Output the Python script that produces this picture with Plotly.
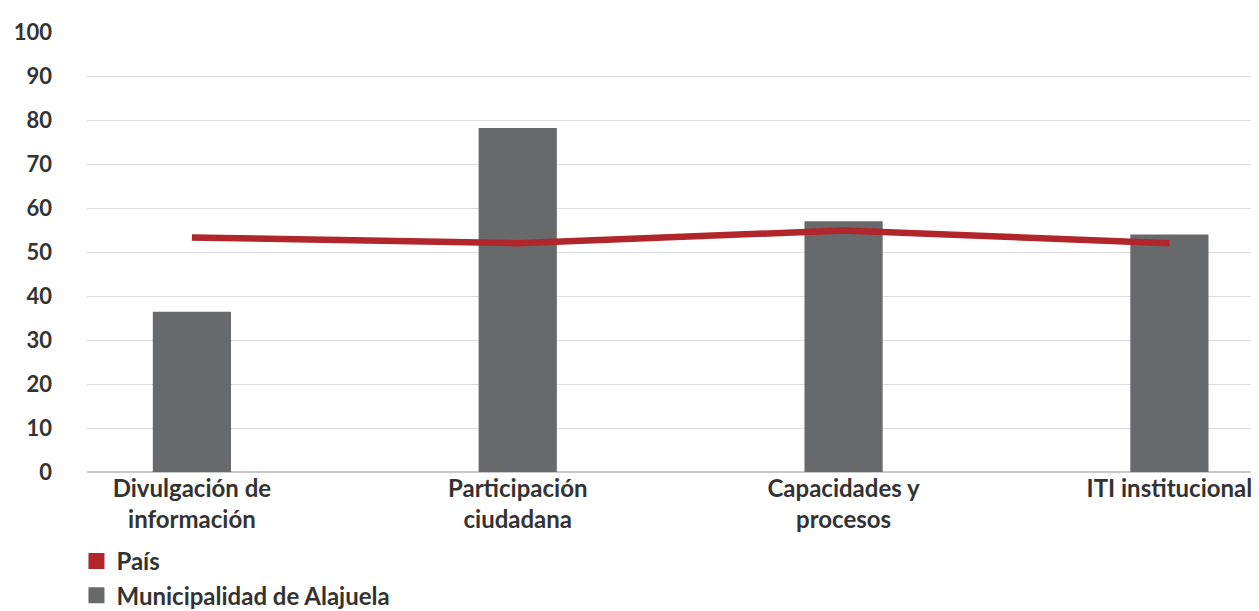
import plotly.graph_objects as go

categories = ["Divulgación de<br>información", "Participación<br>ciudadana", "Capacidades y<br>procesos", "ITI institucional"]
municipalidad = [36.4, 78.2, 57.0, 54.0]
pais = [53.3, 52.0, 54.9, 52.0]
y_ticks = [0, 10, 20, 30, 40, 50, 60, 70, 80, 90, 100]

RED = "#b0262a"
GRAY = "#68696b"
TEXT = "#333333"
FONT = "Lato"

fig = go.Figure()
fig.add_trace(go.Bar(x=categories, y=municipalidad, marker=dict(color=GRAY, line=dict(width=0)),
                     showlegend=False, name="Municipalidad de Alajuela"))
fig.add_trace(go.Scatter(x=categories, y=pais, mode="lines", line=dict(color=RED, width=6.5),
                         showlegend=False, name="País"))
# legend entries (square swatches)
fig.add_trace(go.Scatter(x=[None], y=[None], mode="markers", name="País", legendgroup="a",
                         marker=dict(symbol="square", size=17, color=RED)))
fig.add_trace(go.Scatter(x=[None], y=[None], mode="markers", name="Municipalidad de Alajuela", legendgroup="b",
                         marker=dict(symbol="square", size=17, color=GRAY)))

# page body has an 8px margin, so the figure is sized to fit the 1259x611 window
fig.update_layout(
    width=1251, height=603,
    margin=dict(l=79, r=0, t=24, b=139, autoexpand=False),
    paper_bgcolor="white", plot_bgcolor="white",
    bargap=0.76,
    font=dict(family=FONT, size=24, color=TEXT, weight="bold"),
    showlegend=True,
    legend=dict(x=-0.009, y=-0.152, xanchor="left", yanchor="top", tracegroupgap=0,
                font=dict(family=FONT, size=24, color=TEXT, weight="bold"),
                bgcolor="rgba(0,0,0,0)"),
    xaxis=dict(type="category", range=[-0.322, 3.275], showgrid=False, showline=False, automargin=False,
               ticks="", tickfont=dict(family=FONT, size=24, color=TEXT, weight="bold")),
    yaxis=dict(range=[0, 100], tickvals=y_ticks, showgrid=True, gridcolor="#dcdcdc", gridwidth=1,
               zeroline=True, zerolinecolor="#c8c8c8", zerolinewidth=1.5, showline=False, ticks="",
               automargin=False, ticklabelstandoff=34,
               tickfont=dict(family=FONT, size=22, color=TEXT, weight="bold")),
)

fig.write_html("out.html")
